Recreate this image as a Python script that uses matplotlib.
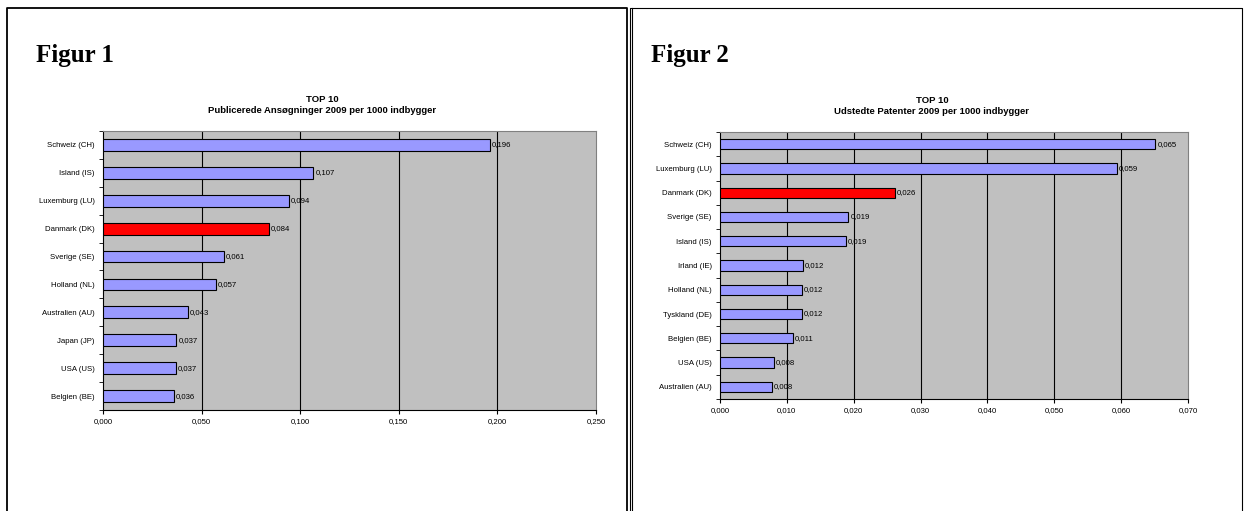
import numpy as np
import matplotlib
matplotlib.use('Agg')
import matplotlib.pyplot as plt
from matplotlib.lines import Line2D

plt.rcParams['font.family'] = ['Liberation Sans', 'DejaVu Sans']

# Figur 1: publicerede ansoegninger 2009 per 1000 indbyggere
lande_1 = ['Schweiz (CH)', 'Island (IS)', 'Luxemburg (LU)', 'Danmark (DK)',
           'Sverige (SE)', 'Holland (NL)', 'Australien (AU)', 'Japan (JP)',
           'USA (US)', 'Belgien (BE)']
ansog_1 = [0.196, 0.1067, 0.0943, 0.0841, 0.0614, 0.0571, 0.0429, 0.0372,
           0.0368, 0.0358]
ticks_1 = [0.0, 0.05, 0.10, 0.15, 0.20, 0.25]
titel_1 = 'TOP 10\nPublicerede Ansøgninger 2009 per 1000 indbygger'

# Figur 2: udstedte patenter 2009 per 1000 indbyggere
lande_2 = ['Schweiz (CH)', 'Luxemburg (LU)', 'Danmark (DK)', 'Sverige (SE)',
           'Island (IS)', 'Irland (IE)', 'Holland (NL)', 'Tyskland (DE)',
           'Belgien (BE)', 'USA (US)', 'Australien (AU)']
patent_2 = [0.0651, 0.0594, 0.0262, 0.0192, 0.0188, 0.0124, 0.0122, 0.0122,
            0.0109, 0.0081, 0.0078]
ticks_2 = [0.0, 0.01, 0.02, 0.03, 0.04, 0.05, 0.06, 0.07]
titel_2 = 'TOP 10\nUdstedte Patenter 2009 per 1000 indbygger'

W, H = 1244, 511
fig = plt.figure(figsize=(W / 100, H / 100), dpi=100)


def px_axes(x0, y0, x1, y1):
    return fig.add_axes([x0 / W, 1 - y1 / H, (x1 - x0) / W, (y1 - y0) / H])


def linje(xs, ys, lw):
    fig.add_artist(Line2D([x / W for x in xs], [1 - y / H for y in ys],
                          transform=fig.transFigure, color='black', lw=lw))


def komma(v):
    return f'{v:.3f}'.replace('.', ',')


def top10(ax, lande, vaerdier, ticks, titel, titel_x):
    n = len(lande)
    y = np.arange(n)
    farver = ['#FF0000' if 'DK' in l else '#9999FF' for l in lande]
    ax.set_facecolor('#C0C0C0')
    ax.barh(y, vaerdier, height=0.42, color=farver, edgecolor='black',
            linewidth=0.8, zorder=3)
    for t in ticks[1:-1]:
        ax.axvline(t, color='black', lw=0.8, zorder=1)
    for i, v in enumerate(vaerdier):
        ax.annotate(komma(v), (v, i), xytext=(1.5, 0), textcoords='offset points',
                    va='center', ha='left', fontsize=5.6, zorder=4)
    ax.set_xlim(ticks[0], ticks[-1])
    ax.set_ylim(n - 0.5, -0.5)
    ax.set_xticks(ticks)
    ax.set_xticklabels([komma(t) for t in ticks], fontsize=5.6)
    ax.set_yticks(y)
    ax.set_yticklabels(lande, fontsize=5.6)
    ax.set_yticks(np.arange(n + 1) - 0.5, minor=True)
    ax.tick_params(axis='y', which='major', length=0, pad=6)
    ax.tick_params(axis='y', which='minor', length=3, direction='out')
    ax.tick_params(axis='x', length=3, direction='out', pad=2.5)
    for side in ('top', 'right'):
        ax.spines[side].set_color('#808080')
    for side in ('left', 'bottom'):
        ax.spines[side].set_color('black')
    # titlen centreres over hele diagramomraadet, ikke kun plotomraadet
    bb = ax.get_position()
    fig.text(titel_x / W, bb.y1 + 26 / H, titel, ha='center', va='center',
             fontsize=6.8, fontweight='bold', linespacing=1.25)


ax1 = px_axes(103, 131, 596, 410)
top10(ax1, lande_1, ansog_1, ticks_1, titel_1, 322)

ax2 = px_axes(720, 132, 1188, 399)
top10(ax2, lande_2, patent_2, ticks_2, titel_2, 932)

# rammer om de to figurer
linje([7, 7, 627, 627], [H, 8, 8, H], 1.3)
linje([629.5, 629.5, 1242, 1242], [H, 8, 8, H], 0.8)
linje([632, 632], [H, 8], 0.8)

fig.text(36 / W, 1 - 62 / H, 'Figur 1', family='Liberation Serif',
         fontweight='bold', fontsize=18, ha='left', va='baseline')
fig.text(651 / W, 1 - 62 / H, 'Figur 2', family='Liberation Serif',
         fontweight='bold', fontsize=18, ha='left', va='baseline')

fig.savefig('out.png', dpi=100)
